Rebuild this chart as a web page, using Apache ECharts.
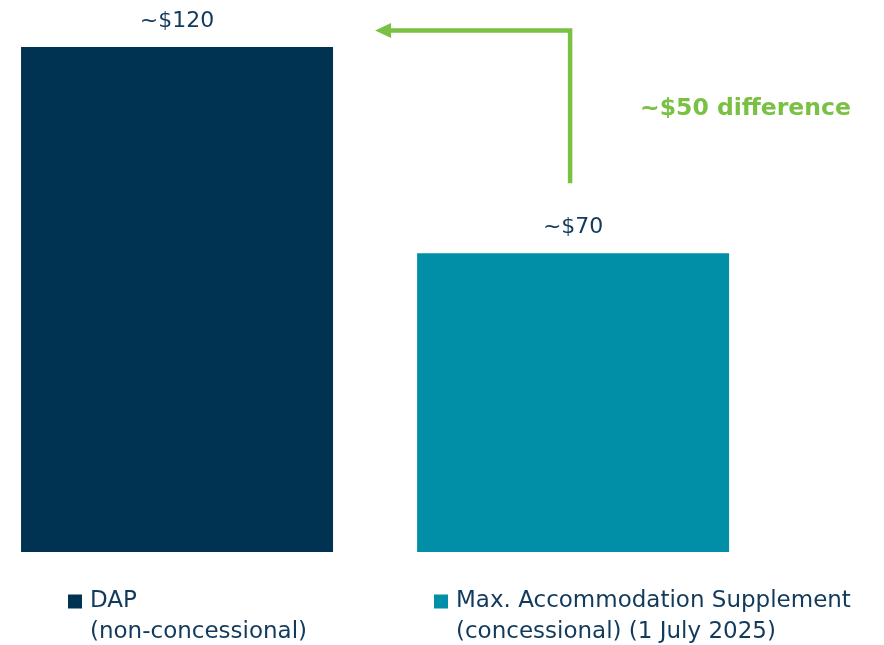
<!DOCTYPE html>
<html>
<head>
<meta charset="utf-8">
<script src="https://cdn.jsdelivr.net/npm/echarts@6/dist/echarts.min.js"></script>
<style>
  html, body { margin: 0; padding: 0; background: #fff; }
  #chart { width: 884px; height: 645px; }
</style>
</head>
<body>
<div id="chart"></div>
<script>
// data
const categories = ['DAP', 'Max. Accommodation Supplement']
const seriesNames = ['DAP\n(non-concessional)', 'Max. Accommodation Supplement\n(concessional) (1 July 2025)']
const dapValues = [[0, 120]]
const supplementValues = [[1, 71]]
const valueLabels = ['~$120', '~$70']
const diffLabel = '~$50 difference'

const navy = '#003352'
const teal = '#008fa6'
const green = '#7ac143'
const textColor = '#123a5c'
const font = 'DejaVu Sans'

const chart = echarts.init(document.getElementById('chart'))

const legendBase = {
  orient: 'vertical',
  top: 559,
  padding: 0,
  itemWidth: 14,
  itemHeight: 14,
  itemGap: 0,
  icon: 'rect',
  selectedMode: false,
  // empty first line keeps the square level with the first text line
  formatter: (name) => '{e| }\n' + name.split('\n').map(s => '{t|' + s + '}').join('\n'),
  textStyle: {
    color: textColor,
    fontFamily: font,
    fontSize: 23,
    rich: {
      e: { fontSize: 23, lineHeight: 31, fontFamily: font },
      t: { fontSize: 23, lineHeight: 31, fontFamily: font, color: textColor, padding: [0, 0, 0, 3] }
    }
  }
}

const barLabel = (i) => ({
  show: true, position: 'top', distance: 15,
  formatter: () => valueLabels[i],
  color: textColor, fontFamily: font, fontSize: 22
})

chart.setOption({
  animation: false,
  grid: { left: 0, right: 0, top: 47, bottom: 93, containLabel: false },
  xAxis: {
    type: 'value',
    min: -0.447,
    max: 1.785,
    show: false,
    splitLine: { show: false }
  },
  yAxis: {
    type: 'value',
    min: 0,
    max: 120,
    show: false,
    splitLine: { show: false }
  },
  legend: [
    Object.assign({}, legendBase, { left: 68, data: [seriesNames[0]] }),
    Object.assign({}, legendBase, { left: 434, data: [seriesNames[1]] })
  ],
  series: [
    {
      name: seriesNames[0],
      type: 'bar',
      data: dapValues,
      barWidth: 312,
      barGap: '-100%',
      itemStyle: { color: navy },
      label: barLabel(0)
    },
    {
      name: seriesNames[1],
      type: 'bar',
      data: supplementValues,
      barWidth: 312,
      barGap: '-100%',
      itemStyle: { color: teal },
      label: barLabel(1)
    }
  ]
})

// difference arrow: from above the smaller bar up and back to the taller bar
function drawArrow() {
  const p1 = chart.convertToPixel({ gridIndex: 0 }, dapValues[0])
  const p2 = chart.convertToPixel({ gridIndex: 0 }, supplementValues[0])
  const x = p2[0] - 3
  const yTop = p1[1] - 16.5
  const yBottom = p2[1] - 70
  const tip = p1[0] + 156 + 42
  chart.setOption({
    graphic: [
      {
        type: 'polyline',
        shape: { points: [[x, yBottom], [x, yTop], [tip + 12, yTop]] },
        style: { stroke: green, lineWidth: 4.5, fill: null, lineJoin: 'miter' }
      },
      {
        type: 'polygon',
        shape: { points: [[tip, yTop], [tip + 16, yTop - 7.5], [tip + 16, yTop + 7.5]] },
        style: { fill: green }
      },
      {
        type: 'text',
        left: 640,
        top: 97,
        style: {
          text: diffLabel,
          fill: green,
          font: 'bold 23.5px "DejaVu Sans"'
        }
      }
    ]
  })
}
drawArrow()

window.addEventListener('resize', () => {
  chart.resize()
  drawArrow()
})
</script>
</body>
</html>
